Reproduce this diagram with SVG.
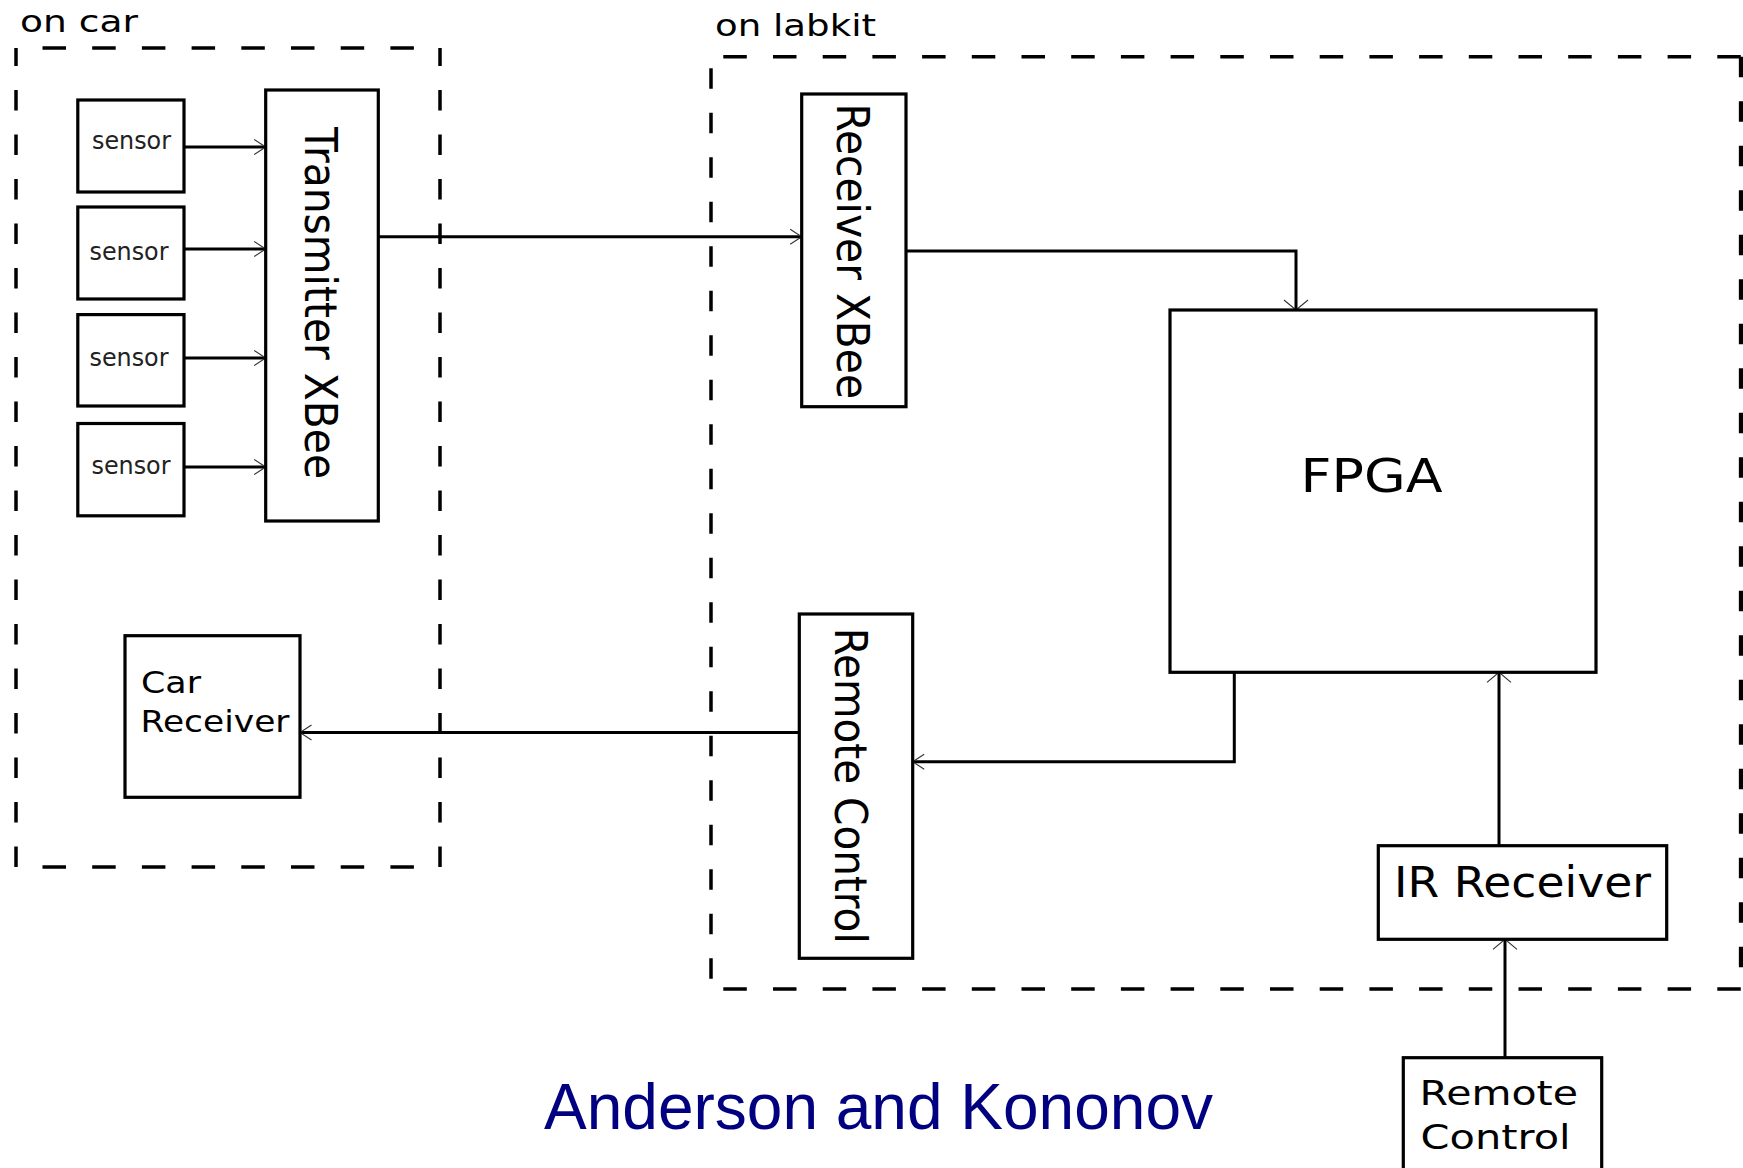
<svg xmlns="http://www.w3.org/2000/svg" width="1743" height="1168" viewBox="0 0 1743 1168">
<style>
.bg{fill:#fff}
.box{fill:#fff;stroke:#000;stroke-width:3.2}
.dash{fill:none;stroke:#000;stroke-width:3.5}
.dh{stroke-dasharray:23.5 26.2}
.dv{stroke-dasharray:20.5 24}
.conn{fill:none;stroke:#000;stroke-width:3}
.t{font-family:"DejaVu Sans","Liberation Sans",sans-serif;fill:#000}
.s{font-size:24px;fill:#222}
.foot{font-family:"Liberation Sans",Arial,sans-serif;font-size:64px;fill:#000080}
</style>
<defs>
<marker id="ah" markerUnits="userSpaceOnUse" viewBox="-14 -10 16 20" markerWidth="16" markerHeight="20" refX="0" refY="0" orient="auto" overflow="visible">
<path d="M-11.5 -7.5 L0 0 L-11.5 7.5" fill="none" stroke="#333" stroke-width="1.1"/>
</marker>
<marker id="av" markerUnits="userSpaceOnUse" viewBox="-14 -14 16 28" markerWidth="16" markerHeight="28" refX="0" refY="0" orient="auto" overflow="visible">
<path d="M-10 -12 L0 0 L-10 12" fill="none" stroke="#333" stroke-width="1.1"/>
</marker>
</defs>
<rect class="bg" x="0" y="0" width="1743" height="1168"/>

<g id="group-on-car">
<path class="dash dh" d="M42.5 48 H440"/>
<path class="dash dh" d="M42.5 867 H440"/>
<path class="dash dv" d="M16 867 V48"/>
<path class="dash dv" d="M440 867 V48"/>
<text class="t" x="20" y="32.3" font-size="31" textLength="118" lengthAdjust="spacingAndGlyphs">on car</text>
</g>

<g id="group-on-labkit">
<path class="dash dh" d="M723.3 56.7 H1741"/>
<path class="dash dh" d="M723.3 989 H1741"/>
<path class="dash dv" d="M711 68.3 V989"/>
<path class="dash dv" d="M1741 56.7 V989" style="stroke-width:4.3"/>
<text class="t" x="715" y="35.5" font-size="31" textLength="161" lengthAdjust="spacingAndGlyphs">on labkit</text>
</g>

<g id="connectors">
<path class="conn" d="M184 147 H265.7" marker-end="url(#ah)"/>
<path class="conn" d="M184 249 H265.7" marker-end="url(#ah)"/>
<path class="conn" d="M184 358 H265.7" marker-end="url(#ah)"/>
<path class="conn" d="M184 467 H265.7" marker-end="url(#ah)"/>
<path class="conn" d="M378.3 236.7 H801.7" marker-end="url(#ah)"/>
<path class="conn" d="M906 251 H1296 V310" marker-end="url(#av)"/>
<path class="conn" d="M1234.3 672.3 V761.7 H912.7" marker-end="url(#ah)"/>
<path class="conn" d="M799.3 732.5 H300" marker-end="url(#ah)"/>
<path class="conn" d="M1499 845.7 V672.3" marker-end="url(#av)"/>
<path class="conn" d="M1505 1057.7 V939.3" marker-end="url(#av)"/>
</g>

<g id="node-sensor-1">
<rect class="box" x="77.8" y="100" width="106.2" height="92"/>
<text class="t s" x="92" y="148.5" textLength="79" lengthAdjust="spacingAndGlyphs">sensor</text>
</g>
<g id="node-sensor-2">
<rect class="box" x="77.8" y="207" width="106.2" height="92"/>
<text class="t s" x="89.5" y="259.5" textLength="79" lengthAdjust="spacingAndGlyphs">sensor</text>
</g>
<g id="node-sensor-3">
<rect class="box" x="77.8" y="314.6" width="106.2" height="91.4"/>
<text class="t s" x="89.5" y="365.5" textLength="79" lengthAdjust="spacingAndGlyphs">sensor</text>
</g>
<g id="node-sensor-4">
<rect class="box" x="77.8" y="423.5" width="106.2" height="92.3"/>
<text class="t s" x="91.5" y="474" textLength="79" lengthAdjust="spacingAndGlyphs">sensor</text>
</g>

<g id="node-transmitter-xbee">
<rect class="box" x="265.7" y="90" width="112.6" height="431"/>
<text class="t" transform="translate(305 127) rotate(90)" x="0" y="0" font-size="45" textLength="352" lengthAdjust="spacingAndGlyphs">Transmitter XBee</text>
</g>

<g id="node-car-receiver">
<rect class="box" x="125" y="635.7" width="175" height="161.6"/>
<text class="t" x="141" y="693.3" font-size="30" textLength="60" lengthAdjust="spacingAndGlyphs">Car</text>
<text class="t" x="140.5" y="732.3" font-size="30" textLength="149" lengthAdjust="spacingAndGlyphs">Receiver</text>
</g>

<g id="node-receiver-xbee">
<rect class="box" x="801.7" y="94" width="104.3" height="312.7"/>
<text class="t" transform="translate(836.7 103.5) rotate(90)" x="0" y="0" font-size="45" textLength="295.5" lengthAdjust="spacingAndGlyphs">Receiver XBee</text>
</g>

<g id="node-fpga">
<rect class="box" x="1170" y="310" width="426" height="362.3"/>
<text class="t" x="1300.5" y="491.7" font-size="47" textLength="142" lengthAdjust="spacingAndGlyphs">FPGA</text>
</g>

<g id="node-remote-control-labkit">
<rect class="box" x="799.3" y="614" width="113.4" height="344.3"/>
<text class="t" transform="translate(835 627.7) rotate(90)" x="0" y="0" font-size="45" textLength="316" lengthAdjust="spacingAndGlyphs">Remote Control</text>
</g>

<g id="node-ir-receiver">
<rect class="box" x="1378.3" y="845.7" width="288.4" height="93.6"/>
<text class="t" x="1394" y="896.7" font-size="42" textLength="257" lengthAdjust="spacingAndGlyphs">IR Receiver</text>
</g>

<g id="node-remote-control">
<rect class="box" x="1403.3" y="1057.7" width="198.4" height="130"/>
<text class="t" x="1419.5" y="1105" font-size="34" textLength="158.5" lengthAdjust="spacingAndGlyphs">Remote</text>
<text class="t" x="1420.6" y="1149.3" font-size="34" textLength="150" lengthAdjust="spacingAndGlyphs">Control</text>
</g>

<text class="foot" x="544" y="1128.5">Anderson and Kononov</text>
</svg>
